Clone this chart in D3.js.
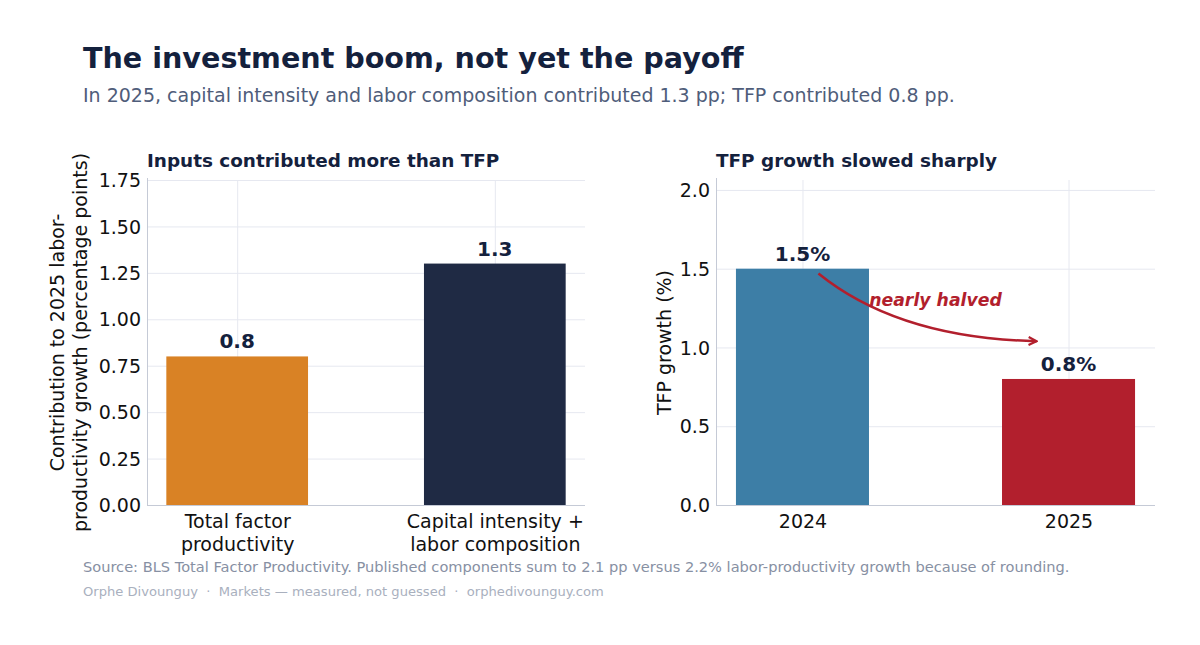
<!DOCTYPE html>
<html>
<head>
<meta charset="utf-8">
<script src="https://cdn.jsdelivr.net/npm/d3@7/dist/d3.min.js"></script>
<style>
  body { margin: 0; background: #fff; }
  svg { display: block; font-family: "DejaVu Sans", sans-serif; }
  .grid line { stroke: #e6e8f0; stroke-width: 1; }
  .grid path { display: none; }
  .axis text { fill: #111; font-size: 19px; font-family: "DejaVu Sans", sans-serif; }
  .axis path { stroke: #c5cad6; }
  .axis line { display: none; }
</style>
</head>
<body>
<svg id="chart" width="1200" height="645"></svg>
<script>
// left panel: contributions to 2025 labor-productivity growth (pp)
var contribCats = ["Total factor\nproductivity", "Capital intensity +\nlabor composition"];
var contribVals = [0.8, 1.3];
var contribLabels = ["0.8", "1.3"];
var contribColors = ["#d98225", "#1f2a44"];
var contribTicks = [0, 0.25, 0.5, 0.75, 1.0, 1.25, 1.5, 1.75];

// right panel: TFP growth by year (%)
var tfpYears = ["2024", "2025"];
var tfpVals = [1.5, 0.8];
var tfpLabels = ["1.5%", "0.8%"];
var tfpColors = ["#3d7ea6", "#b21f2d"];
var tfpTicks = [0, 0.5, 1.0, 1.5, 2.0];

var svg = d3.select("#chart");

// headings
svg.append("text").attr("x", 83).attr("y", 68)
    .attr("font-size", 28.6).attr("font-weight", "bold").attr("fill", "#14213d")
    .text("The investment boom, not yet the payoff");
svg.append("text").attr("x", 83).attr("y", 102)
    .attr("font-size", 19).attr("fill", "#4f5d7a")
    .text("In 2025, capital intensity and labor composition contributed 1.3 pp; TFP contributed 0.8 pp.");

svg.append("text").attr("x", 83).attr("y", 572)
    .attr("font-size", 14.6).attr("fill", "#8790a3")
    .text("Source: BLS Total Factor Productivity. Published components sum to 2.1 pp versus 2.2% labor-productivity growth because of rounding.");
svg.append("text").attr("x", 83).attr("y", 596)
    .attr("font-size", 13.1).attr("fill", "#a9b0be")
    .style("white-space", "pre")
    .text("Orphe Divounguy  \u00b7  Markets \u2014 measured, not guessed  \u00b7  orphedivounguy.com");

function panel(opt) {
    var g = svg.append("g");

    // categorical positions in matplotlib-like units
    var x = d3.scaleLinear()
        .domain([-opt.pad, opt.cats.length - 1 + opt.pad])
        .range([opt.left, opt.right]);

    var y = d3.scaleLinear()
        .domain([0, opt.ymax])
        .range([opt.bottom, opt.top]);

    // grid
    g.append("g").attr("class", "grid")
        .attr("transform", "translate(0," + opt.bottom + ")")
        .call(d3.axisBottom(x).tickValues(d3.range(opt.cats.length))
            .tickSize(-(opt.bottom - opt.top)).tickFormat(""));
    g.append("g").attr("class", "grid")
        .attr("transform", "translate(" + opt.left + ",0)")
        .call(d3.axisLeft(y).tickValues(opt.ticks)
            .tickSize(-(opt.right - opt.left)).tickFormat(""));

    // bars
    g.selectAll("rect.bar")
        .data(opt.vals)
        .enter()
        .append("rect")
        .attr("class", "bar")
        .attr("x", function(d, i) { return x(i - opt.barW / 2); })
        .attr("width", function() { return x(opt.barW) - x(0); })
        .attr("y", function(d) { return y(d); })
        .attr("height", function(d) { return y(0) - y(d); })
        .attr("fill", function(d, i) { return opt.colors[i]; });

    // value labels
    g.selectAll("text.val")
        .data(opt.vals)
        .enter()
        .append("text")
        .attr("class", "val")
        .attr("x", function(d, i) { return x(i); })
        .attr("y", function(d) { return y(d) - 8; })
        .attr("text-anchor", "middle")
        .attr("font-size", 20).attr("font-weight", "bold").attr("fill", "#14213d")
        .text(function(d, i) { return opt.labels[i]; });

    // axes
    var yAxis = g.append("g").attr("class", "axis")
        .attr("transform", "translate(" + opt.left + ",0)")
        .call(d3.axisLeft(y).tickValues(opt.ticks).tickFormat(opt.fmt).tickSizeOuter(0));
    yAxis.select("path").attr("d", "M0.5," + opt.bottom + "V" + (opt.top - 2));
    yAxis.selectAll("text").attr("x", -6).attr("dy", "0.35em");

    var xAxis = g.append("g").attr("class", "axis")
        .attr("transform", "translate(0," + opt.bottom + ")")
        .call(d3.axisBottom(x).tickValues(d3.range(opt.cats.length)).tickSizeOuter(0));
    xAxis.select("path").attr("d", "M" + opt.left + ",0.5H" + opt.right);
    xAxis.selectAll("text").each(function(d) {
        var t = d3.select(this).text("").attr("y", 0).attr("dy", null);
        opt.cats[d].split("\n").forEach(function(line, k) {
            t.append("tspan").attr("x", 0).attr("y", 23 + k * 23).text(line);
        });
    });

    // y label
    var yl = g.append("text")
        .attr("transform", "translate(" + opt.ylabX + "," + ((opt.top + opt.bottom) / 2) + ") rotate(-90)")
        .attr("text-anchor", "middle").attr("font-size", 19).attr("fill", "#111");
    opt.ylab.forEach(function(line, k, arr) {
        yl.append("tspan").attr("x", 0)
            .attr("y", (k - (arr.length - 1)) * 23)
            .text(line);
    });

    // panel title
    g.append("text").attr("x", opt.left).attr("y", 167)
        .attr("font-size", 18.4).attr("font-weight", "bold").attr("fill", "#14213d")
        .text(opt.title);

    return { g: g, x: x, y: y };
}

panel({
    cats: contribCats, vals: contribVals, labels: contribLabels, colors: contribColors,
    ticks: contribTicks, fmt: d3.format(".2f"),
    left: 147, right: 585, top: 180, bottom: 505, pad: 0.35, barW: 0.55, ymax: 1.75,
    ylabX: 87, ylab: ["Contribution to 2025 labor-", "productivity growth (percentage points)"],
    title: "Inputs contributed more than TFP"
});

var right = panel({
    cats: tfpYears, vals: tfpVals, labels: tfpLabels, colors: tfpColors,
    ticks: tfpTicks, fmt: d3.format(".1f"),
    left: 716, right: 1155, top: 180, bottom: 505, pad: 0.325, barW: 0.5, ymax: 2.063,
    ylabX: 671, ylab: ["TFP growth (%)"],
    title: "TFP growth slowed sharply"
});

// "nearly halved" annotation, anchored in data units
var rx = right.x, ry = right.y;
var from = [rx(0.06), ry(1.47)], to = [rx(0.88), ry(1.04)];
var ctrl = [rx(0.36), ry(1.06)];
var defs = svg.append("defs");
defs.append("marker").attr("id", "arrowhead")
    .attr("viewBox", "0 0 10 10").attr("refX", 9).attr("refY", 5)
    .attr("markerWidth", 10).attr("markerHeight", 10)
    .attr("markerUnits", "userSpaceOnUse").attr("orient", "auto")
    .append("path").attr("d", "M1,1 L9,5 L1,9")
    .attr("fill", "none").attr("stroke", "#b21f2d").attr("stroke-width", 2.2);

var p = d3.path();
p.moveTo(from[0], from[1]);
p.quadraticCurveTo(ctrl[0], ctrl[1], to[0], to[1]);
right.g.append("path").attr("d", p.toString())
    .attr("fill", "none").attr("stroke", "#b21f2d").attr("stroke-width", 2.5)
    .attr("marker-end", "url(#arrowhead)");

right.g.append("text").attr("x", rx(0.5)).attr("y", ry(1.3))
    .attr("text-anchor", "middle").attr("dy", "0.35em")
    .attr("font-size", 17.3).attr("font-weight", "bold").attr("font-style", "italic")
    .attr("fill", "#b21f2d")
    .text("nearly halved");
</script>
</body>
</html>
